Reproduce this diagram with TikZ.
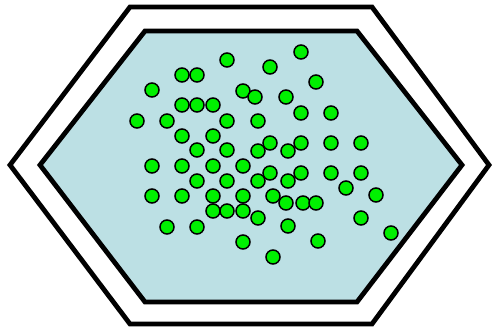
\documentclass[tikz,border=0pt]{standalone}
\definecolor{cellblue}{HTML}{BCE0E4}
\definecolor{dotgreen}{HTML}{00F000}
\tikzset{
  hexline/.style={line width=4.8pt, line join=miter},
  dot/.style={circle, draw=black, fill=dotgreen, line width=1.5pt, minimum size=14pt, inner sep=0pt}
}
\begin{document}
\begin{tikzpicture}[x=1pt,y=-1pt]
\useasboundingbox (0,0) rectangle (493,331);
\draw[hexline, fill=white] (10,165) -- (130,7) -- (372,7) -- (489,165) -- (372,324) -- (130,324) -- cycle;
\draw[hexline, fill=cellblue] (40,165) -- (145,31) -- (357,31) -- (462,165) -- (357,302) -- (145,302) -- cycle;
\foreach \x/\y [count=\i] in {
  301/52, 227/60, 270/67, 182/75, 197/75, 316/82, 152/90, 243/91, 255/97, 286/97,
  182/105, 197/105, 213/105, 301/113, 331/113, 137/121, 167/121, 227/121, 258/121,
  182/136, 213/136, 270/143, 301/143, 331/143, 361/143,
  197/150, 227/150, 258/151, 288/151,
  152/166, 182/166, 213/166, 243/166,
  270/173, 301/173, 331/173, 361/173,
  197/181, 227/181, 258/181, 288/181,
  346/188, 376/195,
  152/196, 182/196, 213/196, 243/196, 273/196,
  286/203, 303/203, 316/203,
  213/211, 227/211, 243/211,
  258/218, 361/218,
  167/227, 197/227, 288/226, 391/233,
  243/242, 318/241, 273/257}
  \node[dot] (d\i) at (\x,\y) {};
\end{tikzpicture}
\end{document}
